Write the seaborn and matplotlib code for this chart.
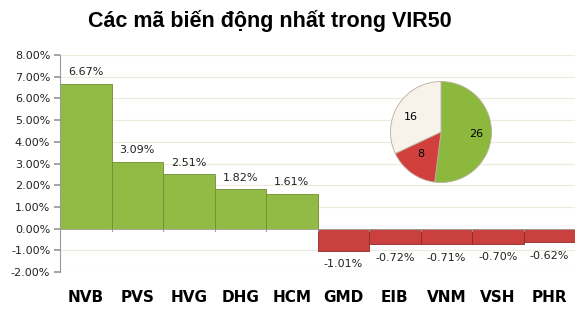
import matplotlib
matplotlib.use("Agg")
import matplotlib.pyplot as plt
import seaborn as sns
import pandas as pd
import numpy as np

categories = ["NVB", "PVS", "HVG", "DHG", "HCM", "GMD", "EIB", "VNM", "VSH", "PHR"]
values = [6.67, 3.09, 2.51, 1.82, 1.61, -1.01, -0.72, -0.71, -0.70, -0.62]
pie_labels = ["26", "8", "16"]
pie_values = [26, 8, 16]
title = "Các mã biến động nhất trong VIR50"
yticks = [-2, -1, 0, 1, 2, 3, 4, 5, 6, 7, 8]

sns.set_theme(style="white")
plt.rcParams['font.family'] = ['DejaVu Sans']

df = pd.DataFrame({"cat": categories, "val": values})
df["sign"] = np.where(df["val"] >= 0, "pos", "neg")

fig = plt.figure(figsize=(5.8, 3.15), dpi=100)
ax = fig.add_axes([60/580, 1-272/315, 515/580, (272-55)/315])

green = "#92BB45"
red = "#C9403E"
sns.barplot(data=df, x="cat", y="val", hue="sign", palette={"pos": green, "neg": red},
            width=1.0, dodge=False, legend=False, ax=ax, edgecolor="#6E8E33", linewidth=0.6, saturation=1)
for p, v in zip(ax.patches, values):
    if v < 0:
        p.set_edgecolor("#8E2A28")

ax.set_ylim(-2, 8)
ax.set_xlim(-0.5, 9.5)
ax.set_yticks(yticks)
ax.set_yticklabels([f"{t:.2f}%" for t in yticks], fontsize=8, color="#222222")
ax.grid(axis="y", color="#EFE8DC", linewidth=0.8)
ax.set_axisbelow(True)
ax.set_xlabel("")
ax.set_ylabel("")
for s in ["top", "right", "bottom"]:
    ax.spines[s].set_visible(False)
ax.spines["left"].set_color("#999999")
ax.spines["left"].set_linewidth(0.8)
ax.tick_params(axis="y", length=4, color="#999999", left=True, pad=3)
ax.tick_params(axis="x", length=0, pad=13)
ax.set_xticks(range(len(categories)))
ax.set_xticklabels(categories, fontsize=11, fontweight="bold", color="black")
ax.axhline(0, color="#AAAAAA", linewidth=0.6, zorder=1)
for i in range(1, len(categories)):
    ax.plot([i - 0.5, i - 0.5], [0, -0.12], color="#999999", linewidth=0.8, clip_on=False)

for i, v in enumerate(values):
    if v >= 0:
        ax.text(i, v + 0.3, f"{v:.2f}%", ha="center", va="bottom", fontsize=8, color="#222222")
    else:
        ax.text(i, v - 0.4, f"{v:.2f}%", ha="center", va="top", fontsize=8, color="#222222")

fig.text(270/580, 1-21/315, title, ha="center", va="center", fontsize=15.5, fontweight="bold",
         color="black", family=["Liberation Sans", "DejaVu Sans"])

pax = fig.add_axes([390/580, 1-183/315, 102/580, 102/315])
wedges, texts = pax.pie(pie_values, colors=["#8DB83E", "#D2403E", "#F8F3EA"], startangle=90,
                        counterclock=False, labels=pie_labels, labeldistance=0.55,
                        wedgeprops=dict(edgecolor="#B8B0A0", linewidth=0.6),
                        textprops=dict(fontsize=8, color="black"), frame=False)
pax.set_xlim(-1.01, 1.01)
pax.set_ylim(-1.01, 1.01)
pax.set_aspect("equal")

fig.savefig("out.png", dpi=100, facecolor="white")
